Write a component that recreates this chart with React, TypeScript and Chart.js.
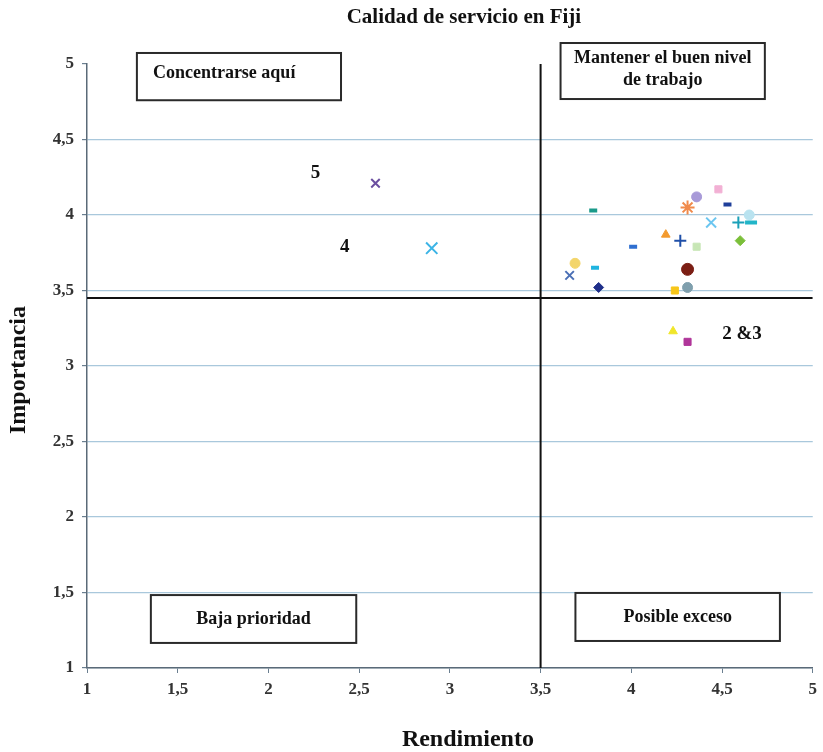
import React, { useEffect, useRef } from "react";
import { Chart, registerables } from "chart.js";

Chart.register(...registerables);

const TITLE = "Calidad de servicio en Fiji";
const X_TITLE = "Rendimiento";
const Y_TITLE = "Importancia";

// Series (one point each, Excel-style)
const performance = [2.59, 2.9, 3.79, 3.69, 3.66, 3.8, 3.82, 4.01, 4.19, 4.27, 4.36, 4.31, 4.36, 4.48, 4.53, 4.44, 4.59, 4.66, 4.65, 4.6, 4.31, 4.24, 4.31, 4.23, 4.31];
const importance = [4.21, 3.78, 4.03, 3.68, 3.6, 3.65, 3.52, 3.79, 3.87, 3.83, 3.79, 4.05, 4.12, 4.17, 4.07, 3.95, 3.95, 3.95, 4.0, 3.83, 3.64, 3.5, 3.52, 3.23, 3.16];
const pointColors = ["#6b4fa0", "#3cb4e6", "#1a9a8a", "#f3d56a", "#4a6fb5", "#1fb4e0", "#1f2f8a", "#2f6fd0", "#f39a2e", "#1f4fa8", "#c7e6b5", "#f08a4b", "#a89ad8", "#f2b0d4", "#1f3f9a", "#6cc6f0", "#1aa0b8", "#22b5c8", "#b9e3f0", "#7bbf3a", "#7b1e14", "#f7c619", "#7f9fad", "#f0e62a", "#b0369a"];
const pointShapes = ["crossRot", "crossRot", "line", "circle", "crossRot", "line", "rectRot", "line", "triangle", "cross", "rect", "star", "circle", "rect", "line", "crossRot", "cross", "line", "circle", "rectRot", "circle", "rect", "circle", "triangle", "rect"];
const pointSizes = [6, 8, 4, 5, 6, 4, 5, 4, 5, 6, 5, 7, 5, 5, 4, 7, 6, 6, 5, 5, 6, 5, 5, 5, 5];

// Quadrant dividers
const dividerX = 3.5;
const dividerY = 3.45;

// Axis ticks
const AXIS_MIN = 1;
const AXIS_MAX = 5;
const TICK_STEP = 0.5;

// Point labels
const labelTexts = ["5", "4", "2 &3"];
const labelX = [2.26, 2.42, 4.61];
const labelY = [4.28, 3.79, 3.21];

// Quadrant boxes (data coordinates)
const boxTexts = [["Concentrarse aquí"], ["Mantener el buen nivel", "de trabajo"], ["Baja prioridad"], ["Posible exceso"]];
const boxX1 = [1.275, 3.61, 1.352, 3.692];
const boxX2 = [2.4, 4.736, 2.484, 4.819];
const boxY1 = [5.073, 5.139, 1.483, 1.497];
const boxY2 = [4.76, 4.768, 1.166, 1.179];
const boxAlign = ["left", "center", "center", "center"];

const SERIF = "'Liberation Serif', 'DejaVu Serif', serif";
const fmt = (v: number) => String(v).replace(".", ",");

const overlayPlugin = {
  id: "overlay",
  afterDraw(chart: any) {
    const ctx = chart.ctx;
    const xs = chart.scales.x;
    const ys = chart.scales.y;
    const area = chart.chartArea;
    ctx.save();
    ctx.fillStyle = "#111";
    ctx.textBaseline = "middle";

    // title
    ctx.font = `bold 21px ${SERIF}`;
    ctx.textAlign = "center";
    ctx.fillText(TITLE, (area.left + area.right) / 2 + 14, 18);

    // axis titles
    ctx.font = `bold 24px ${SERIF}`;
    ctx.fillText(X_TITLE, (area.left + area.right) / 2 + 18, 740);
    ctx.save();
    ctx.translate(19, (area.top + area.bottom) / 2 + 4);
    ctx.rotate(-Math.PI / 2);
    ctx.fillText(Y_TITLE, 0, 0);
    ctx.restore();

    // quadrant boxes
    for (let i = 0; i < boxTexts.length; i++) {
      const x1 = xs.getPixelForValue(boxX1[i]);
      const x2 = xs.getPixelForValue(boxX2[i]);
      const y1 = ys.getPixelForValue(boxY1[i]);
      const y2 = ys.getPixelForValue(boxY2[i]);
      ctx.fillStyle = "#fff";
      ctx.fillRect(x1, y1, x2 - x1, y2 - y1);
      ctx.strokeStyle = "#2a2a2a";
      ctx.lineWidth = 2;
      ctx.strokeRect(x1, y1, x2 - x1, y2 - y1);
      ctx.fillStyle = "#111";
      ctx.font = `bold 18px ${SERIF}`;
      const lines = boxTexts[i];
      const lh = 22;
      const cy = lines.length > 1 ? y1 + 15 : (boxAlign[i] === "left" ? y1 + 20 : (y1 + y2) / 2);
      lines.forEach((t, k) => {
        if (boxAlign[i] === "left") {
          ctx.textAlign = "left";
          ctx.fillText(t, x1 + 16, cy + k * lh);
        } else {
          ctx.textAlign = "center";
          ctx.fillText(t, (x1 + x2) / 2, cy + k * lh);
        }
      });
    }

    // point labels
    ctx.font = `bold 19px ${SERIF}`;
    ctx.textAlign = "center";
    ctx.fillStyle = "#111";
    for (let i = 0; i < labelTexts.length; i++) {
      ctx.fillText(labelTexts[i], xs.getPixelForValue(labelX[i]), ys.getPixelForValue(labelY[i]));
    }
    ctx.restore();
  },
};

export default function App() {
  const ref = useRef<HTMLCanvasElement>(null);
  useEffect(() => {
    if (!ref.current) return;
    const pointSets = performance.map((px, i) => ({
      label: `S${i + 1}`,
      data: [{ x: px, y: importance[i] }],
      pointStyle: pointShapes[i] as any,
      pointRadius: pointSizes[i],
      backgroundColor: pointColors[i],
      borderColor: pointColors[i],
      borderWidth: pointShapes[i] === "line" ? 4 : pointShapes[i].startsWith("cross") || pointShapes[i] === "star" ? 2 : 1,
      showLine: false,
      order: 0,
    }));
    const lineSets = [
      {
        label: "vline",
        data: [{ x: dividerX, y: AXIS_MIN }, { x: dividerX, y: AXIS_MAX }],
        showLine: true,
        borderColor: "#111",
        borderWidth: 2,
        pointRadius: 0,
        order: 10,
      },
      {
        label: "hline",
        data: [{ x: AXIS_MIN, y: dividerY }, { x: AXIS_MAX, y: dividerY }],
        showLine: true,
        borderColor: "#111",
        borderWidth: 2,
        pointRadius: 0,
        order: 10,
      },
    ];
    const chart = new Chart(ref.current, {
      type: "scatter",
      data: { datasets: [...pointSets, ...lineSets] as any },
      plugins: [overlayPlugin],
      options: {
        animation: false,
        responsive: false,
        layout: { padding: { top: 64, right: 8, left: 0, bottom: 0 } },
        plugins: { legend: { display: false }, tooltip: { enabled: false }, title: { display: false } },
        scales: {
          x: {
            type: "linear",
            min: AXIS_MIN,
            max: AXIS_MAX,
            afterFit: (s: any) => {
              s.height = 84;
            },
            ticks: {
              stepSize: TICK_STEP,
              callback: (v: any) => fmt(Number(v)),
              font: { family: SERIF, size: 17, weight: "bold" },
              color: "#333",
              padding: 6,
              maxRotation: 0,
              autoSkip: false,
            },
            grid: { drawOnChartArea: false, tickLength: 5, tickColor: "#6a7f90" },
            border: { color: "#5a6a78", width: 1.5 },
          },
          y: {
            type: "linear",
            min: AXIS_MIN,
            max: AXIS_MAX,
            afterFit: (s: any) => {
              s.width = 87;
            },
            ticks: {
              stepSize: TICK_STEP,
              callback: (v: any) => fmt(Number(v)),
              font: { family: SERIF, size: 17, weight: "bold" },
              color: "#333",
              padding: 8,
              autoSkip: false,
            },
            grid: {
              color: (c: any) => (c.tick && c.tick.value === AXIS_MAX ? "rgba(0,0,0,0)" : "#a9c8dc"),
              lineWidth: 1.2,
              tickLength: 5,
              tickColor: "#6a7f90",
            },
            border: { color: "#5a6a78", width: 1.5 },
          },
        },
      },
    });
    return () => chart.destroy();
  }, []);
  return (
    <div style={{ position: "absolute", left: 0, top: 0, width: 823, height: 752, background: "#fff" }}>
      <canvas ref={ref} width={823} height={752} style={{ display: "block" }} />
    </div>
  );
}
